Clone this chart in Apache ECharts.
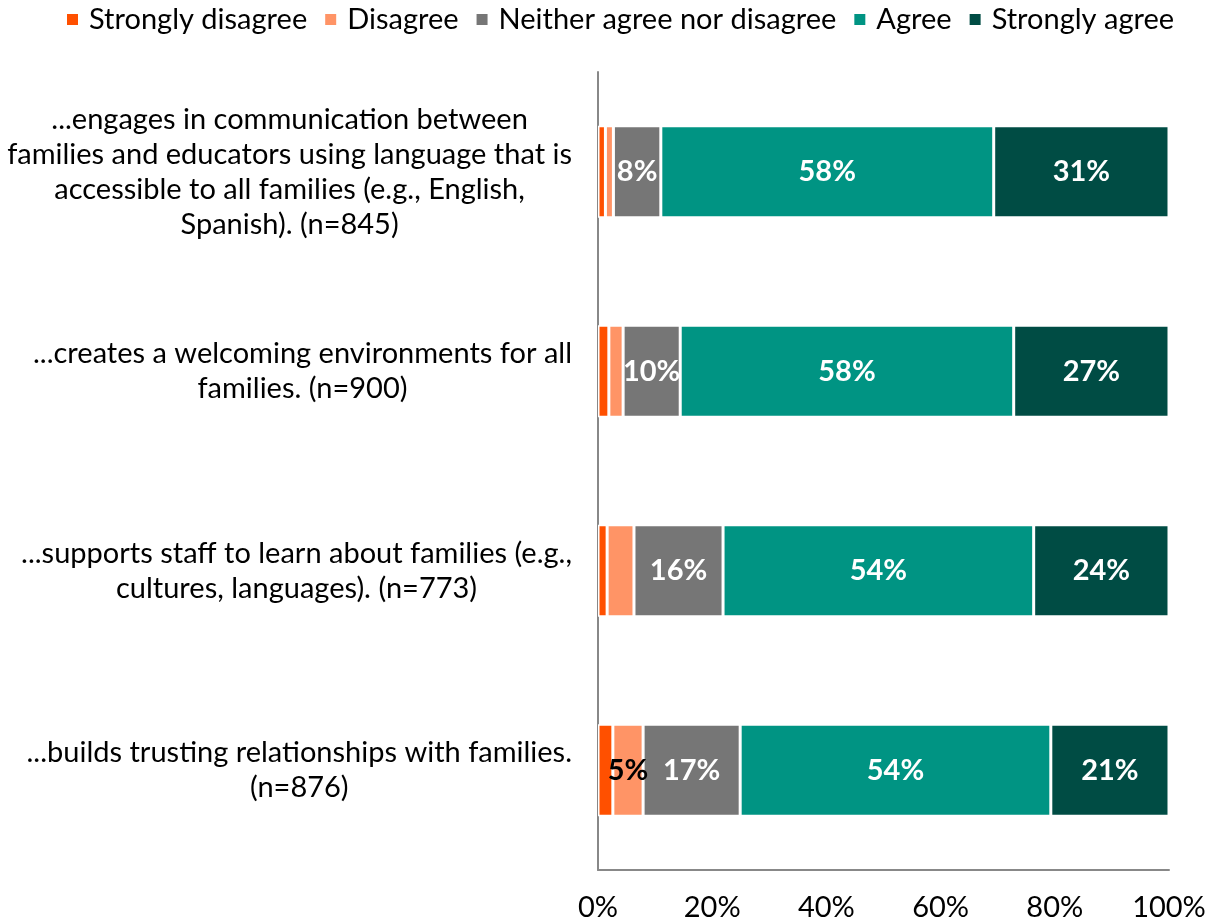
<!DOCTYPE html>
<html>
<head>
<meta charset="utf-8">
<script src="https://cdn.jsdelivr.net/npm/echarts@6/dist/echarts.min.js"></script>
<style>
  html, body { margin: 0; padding: 0; background: #fff; }
  #main { width: 1217px; height: 924px; }
</style>
</head>
<body>
<div id="main"></div>
<script>
// statements (top to bottom)
var categories = [
    '...engages in communication between\nfamilies and educators using language that is\naccessible to all families (e.g., English,\nSpanish). (n=845)',
    '...creates a welcoming environments for all\nfamilies. (n=900)',
    '...supports staff to learn about families (e.g.,\ncultures, languages). (n=773)',
    '...builds trusting relationships with families.\n(n=876)'
];
var seriesNames = ['Strongly disagree', 'Disagree', 'Neither agree nor disagree', 'Agree', 'Strongly agree'];
var stronglyDisagree = [1.3, 1.9, 1.6, 2.6];
var disagree = [1.4, 2.5, 4.7, 5.3];
var neither = [8.3, 10.0, 15.6, 17.0];
var agree = [58.3, 58.4, 54.4, 54.4];
var stronglyAgree = [30.7, 27.2, 23.7, 20.7];
var xTicks = [0, 20, 40, 60, 80, 100];

var colors = ['#FF5000', '#FF9466', '#767676', '#009483', '#004C44'];
var labelColors = ['#fff', '#000', '#fff', '#fff', '#fff'];
var font = 'Lato, "DejaVu Sans", sans-serif';
var fs = 29;

var myChart = echarts.init(document.getElementById('main'));

function makeSeries(i, data) {
    return {
        name: seriesNames[i],
        type: 'bar',
        stack: 'total',
        barWidth: 92,
        data: data,
        itemStyle: { color: colors[i], borderColor: '#fff', borderWidth: 1.5 },
        label: {
            show: true,
            position: 'inside',
            color: labelColors[i],
            fontFamily: font,
            fontSize: fs,
            fontWeight: 'bold',
            formatter: function (p) {
                return p.value >= 5 ? Math.round(p.value) + '%' : '';
            }
        }
    };
}

option = {
    color: colors,
    legend: {
        top: 0,
        left: 60,
        itemWidth: 13,
        itemHeight: 13,
        itemGap: 16,
        icon: 'rect',
        textStyle: { fontFamily: font, fontSize: fs, color: '#000', padding: [0, 0, 0, 5] },
        data: seriesNames
    },
    grid: { left: 598, right: 48, top: 72, bottom: 54, containLabel: false },
    xAxis: {
        type: 'value',
        min: xTicks[0],
        max: xTicks[xTicks.length - 1],
        interval: 20,
        splitLine: { show: false },
        axisTick: { show: false },
        axisLine: { show: true, lineStyle: { color: '#888', width: 2 } },
        axisLabel: {
            margin: 23,
            fontFamily: font,
            fontSize: fs,
            color: '#000',
            formatter: '{value}%'
        }
    },
    yAxis: {
        type: 'category',
        inverse: true,
        data: categories,
        axisTick: { show: false },
        axisLine: { show: true, lineStyle: { color: '#888', width: 2 } },
        axisLabel: {
            margin: 26,
            align: 'right',
            formatter: function (v) {
                return v.split('\n').map(function (s) { return '{a|' + s + '}'; }).join('\n');
            },
            rich: {
                a: { align: 'center', fontFamily: font, fontSize: fs, lineHeight: 35, color: '#000' }
            }
        }
    },
    series: [
        makeSeries(0, stronglyDisagree),
        makeSeries(1, disagree),
        makeSeries(2, neither),
        makeSeries(3, agree),
        makeSeries(4, stronglyAgree)
    ]
};

myChart.setOption(option);
</script>
</body>
</html>
